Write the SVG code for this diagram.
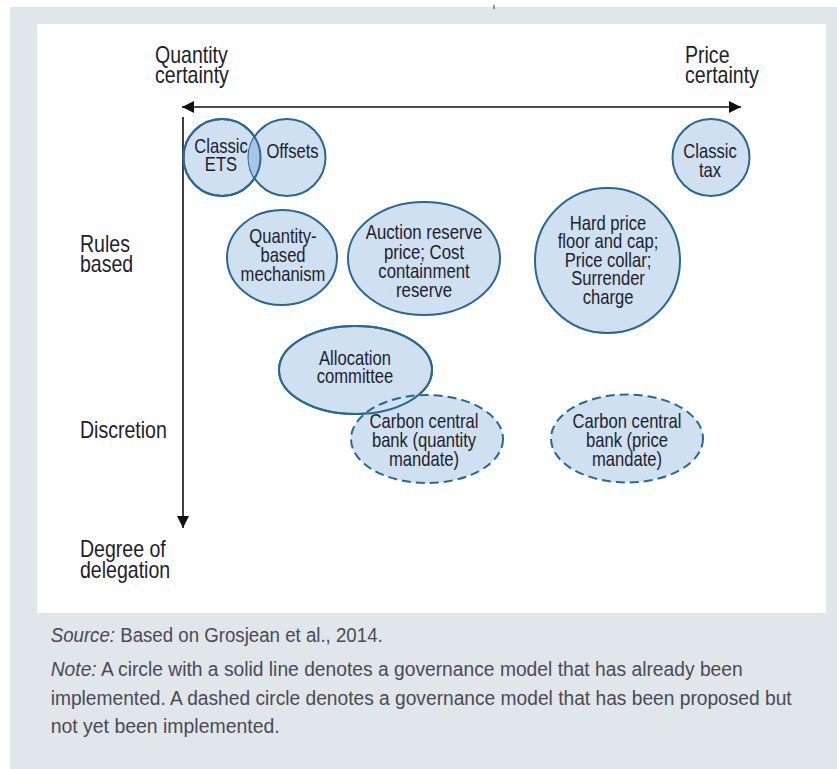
<svg xmlns="http://www.w3.org/2000/svg" width="837" height="769" viewBox="0 0 837 769">
<defs>
<style>
.lbl{font-family:"Liberation Sans",Arial,sans-serif;font-size:23px;fill:#1e1e2c}
.ct{font-family:"Liberation Sans",Arial,sans-serif;font-size:20px;fill:#1e1e2c;text-anchor:middle}
.cap{font-family:"Liberation Sans",Arial,sans-serif;font-size:19.5px;fill:#4a4a55}
.solid{fill:#cfe0f1;stroke:#2b6891;stroke-width:2}
.dash{fill:#cfe0f1;stroke:#2b6891;stroke-width:2;stroke-dasharray:9 5}
.ax{stroke:#111;stroke-width:1.6;fill:none}
</style>
<marker id="ah" markerUnits="userSpaceOnUse" markerWidth="14" markerHeight="14" refX="12" refY="6" orient="auto-start-reverse">
<path d="M0,0 L12,6 L0,12 Z" fill="#111"/>
</marker>
</defs>
<rect x="0" y="0" width="837" height="769" fill="#ffffff"/>
<rect x="10" y="7" width="827" height="762" fill="#e1e6ea"/>
<line x1="494" y1="5" x2="494" y2="9" stroke="#333" stroke-width="1"/>
<rect x="37" y="24" width="789" height="589" fill="#ffffff"/>

<g id="connectors">
<line class="ax" x1="182" y1="107" x2="741" y2="107" marker-start="url(#ah)" marker-end="url(#ah)"/>
<line class="ax" x1="183" y1="117" x2="183" y2="528" marker-end="url(#ah)"/>
</g>

<g id="axis-labels">
<g transform="translate(155 0) scale(0.85 1)">
<text class="lbl" x="0" y="63">Quantity</text>
<text class="lbl" x="0" y="83">certainty</text>
</g>
<g transform="translate(685 0) scale(0.85 1)">
<text class="lbl" x="0" y="63">Price</text>
<text class="lbl" x="0" y="83">certainty</text>
</g>
<g transform="translate(80 0) scale(0.85 1)">
<text class="lbl" x="0" y="252">Rules</text>
<text class="lbl" x="0" y="272">based</text>
<text class="lbl" x="0" y="438">Discretion</text>
<text class="lbl" x="0" y="557">Degree of</text>
<text class="lbl" x="0" y="578">delegation</text>
</g>
</g>

<g id="classic-ets">
<circle class="solid" cx="222" cy="157.5" r="38.5"/>
</g>
<g id="offsets">
<circle class="solid" cx="287" cy="157.5" r="38.5"/>
<path d="M254.5,136.9 A38.5,38.5 0 0,1 254.5,178.1 A38.5,38.5 0 0,1 254.5,136.9 Z" fill="#a9c5e3" stroke="none"/>
<circle cx="222" cy="157.5" r="38.5" fill="none" stroke="#2b6891" stroke-width="2"/>
<g transform="translate(292.5 0) scale(0.83 1)">
<text class="ct" x="0" y="158.5">Offsets</text>
</g>
</g>
<g id="classic-ets-text" transform="translate(221 0) scale(0.83 1)">
<text class="ct" x="0" y="153.5">Classic</text>
<text class="ct" x="0" y="171.5">ETS</text>
</g>

<g id="classic-tax">
<circle class="solid" cx="711" cy="157.5" r="38.5"/>
<g transform="translate(710 0) scale(0.83 1)">
<text class="ct" x="0" y="158">Classic</text>
<text class="ct" x="0" y="177">tax</text>
</g>
</g>

<g id="quantity-based">
<ellipse class="solid" cx="282" cy="257.5" rx="55" ry="47.5"/>
<g transform="translate(283 0) scale(0.83 1)">
<text class="ct" x="0" y="243.5">Quantity-</text>
<text class="ct" x="0" y="262.5">based</text>
<text class="ct" x="0" y="281.5">mechanism</text>
</g>
</g>

<g id="auction-reserve">
<ellipse class="solid" cx="424" cy="258.5" rx="76" ry="56.5"/>
<g transform="translate(424 0) scale(0.84 1)">
<text class="ct" x="0" y="239.5">Auction reserve</text>
<text class="ct" x="0" y="259">price; Cost</text>
<text class="ct" x="0" y="278.5">containment</text>
<text class="ct" x="0" y="297">reserve</text>
</g>
</g>

<g id="hard-price">
<circle class="solid" cx="607.5" cy="260.5" r="72.5"/>
<g transform="translate(608 0) scale(0.83 1)">
<text class="ct" x="0" y="230">Hard price</text>
<text class="ct" x="0" y="248.5">floor and cap;</text>
<text class="ct" x="0" y="267">Price collar;</text>
<text class="ct" x="0" y="285.5">Surrender</text>
<text class="ct" x="0" y="304">charge</text>
</g>
</g>

<g id="allocation-committee">
<ellipse class="solid" cx="355.5" cy="370" rx="76.5" ry="44"/>
</g>
<g id="ccb-quantity">
<ellipse class="dash" cx="427" cy="439" rx="76" ry="44"/>
<ellipse cx="355.5" cy="370" rx="76.5" ry="44" fill="none" stroke="#2b6891" stroke-width="2"/>
<g transform="translate(424 0) scale(0.83 1)">
<text class="ct" x="0" y="428">Carbon central</text>
<text class="ct" x="0" y="447">bank (quantity</text>
<text class="ct" x="0" y="466">mandate)</text>
</g>
</g>
<g id="allocation-text" transform="translate(355 0) scale(0.83 1)">
<text class="ct" x="0" y="365">Allocation</text>
<text class="ct" x="0" y="383.5">committee</text>
</g>

<g id="ccb-price">
<ellipse class="dash" cx="627" cy="438.5" rx="76" ry="44"/>
<g transform="translate(627 0) scale(0.83 1)">
<text class="ct" x="0" y="428">Carbon central</text>
<text class="ct" x="0" y="447">bank (price</text>
<text class="ct" x="0" y="466">mandate)</text>
</g>
</g>

<g id="caption">
<text class="cap" x="50.7" y="642" textLength="332" lengthAdjust="spacingAndGlyphs"><tspan font-style="italic">Source:</tspan> Based on Grosjean et al., 2014.</text>
<text class="cap" x="50.7" y="676" textLength="692" lengthAdjust="spacingAndGlyphs"><tspan font-style="italic">Note:</tspan> A circle with a solid line denotes a governance model that has already been</text>
<text class="cap" x="50.7" y="705" textLength="741" lengthAdjust="spacingAndGlyphs">implemented. A dashed circle denotes a governance model that has been proposed but</text>
<text class="cap" x="50.7" y="733" textLength="229" lengthAdjust="spacingAndGlyphs">not yet been implemented.</text>
</g>
</svg>
